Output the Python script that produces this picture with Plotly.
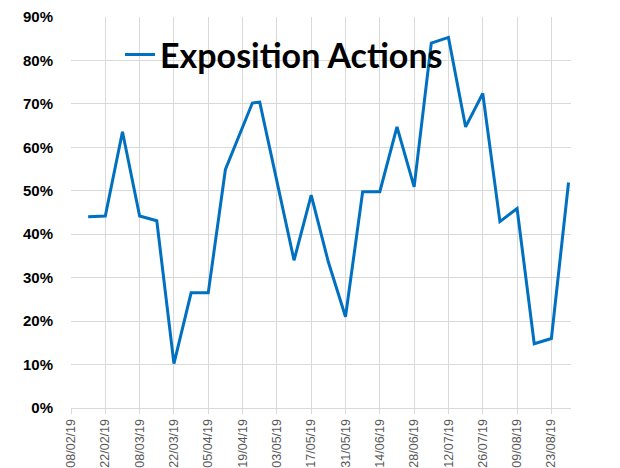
import plotly.graph_objects as go

dates = ["2019-02-15", "2019-02-22", "2019-03-01", "2019-03-08", "2019-03-15",
         "2019-03-22", "2019-03-29", "2019-04-05", "2019-04-12", "2019-04-23",
         "2019-04-26", "2019-05-10", "2019-05-17", "2019-05-24", "2019-05-31",
         "2019-06-07", "2019-06-14", "2019-06-21", "2019-06-28", "2019-07-05",
         "2019-07-12", "2019-07-19", "2019-07-26", "2019-08-02", "2019-08-09",
         "2019-08-16", "2019-08-23", "2019-08-30"]
exposition = [0.440, 0.442, 0.636, 0.442, 0.431, 0.102, 0.265, 0.265, 0.549, 0.702,
              0.704, 0.340, 0.490, 0.336, 0.210, 0.498, 0.498, 0.647, 0.509, 0.840,
              0.853, 0.647, 0.724, 0.429, 0.459, 0.148, 0.160, 0.519]
series_name = "Exposition Actions"

fig = go.Figure()
fig.add_trace(go.Scatter(
    x=dates, y=exposition, mode="lines", name=series_name,
    line=dict(color="#0070C0", width=3),
    showlegend=True,
))

grid = "#d9d9d9"
fig.update_layout(
    width=620, height=468,
    margin=dict(l=63, r=57, t=9, b=68, pad=0, autoexpand=False),
    paper_bgcolor="white", plot_bgcolor="white",
    showlegend=True,
    legend=dict(x=0.098, y=0.903, xanchor="left", yanchor="middle",
                bgcolor="rgba(0,0,0,0)",
                font=dict(family="Lato", size=34, color="black", weight="bold"),
                itemwidth=30),
    xaxis=dict(
        type="date", range=["2019-02-08", "2019-08-31"], automargin=False,
        tick0="2019-02-08", dtick=14 * 86400000, tickformat="%d/%m/%y",
        tickangle=-90, showgrid=True, gridcolor=grid, gridwidth=1,
        showline=True, linecolor=grid, linewidth=1,
        ticks="outside", ticklen=5, tickcolor=grid,
        tickfont=dict(family="Liberation Sans", size=12.5, color="#595959"),
        zeroline=False,
    ),
    yaxis=dict(
        range=[0, 0.9], dtick=0.1, tick0=0, tickformat=".0%", automargin=False,
        showgrid=True, gridcolor=grid, gridwidth=1,
        showline=False, zeroline=False, ticks="",
        ticklabelstandoff=17,
        tickfont=dict(family="Liberation Sans", size=15, color="black", weight="bold"),
    ),
    shapes=[
        dict(type="line", xref="paper", yref="paper", x0=-0.136, x1=-0.136, y0=-0.2, y1=1.05,
             line=dict(color="#d9d9d9", width=1)),
        dict(type="line", xref="paper", yref="paper", x0=1.094, x1=1.094, y0=-0.2, y1=1.05,
             line=dict(color="#d9d9d9", width=1)),
    ],
)

fig.write_html("out.html")
